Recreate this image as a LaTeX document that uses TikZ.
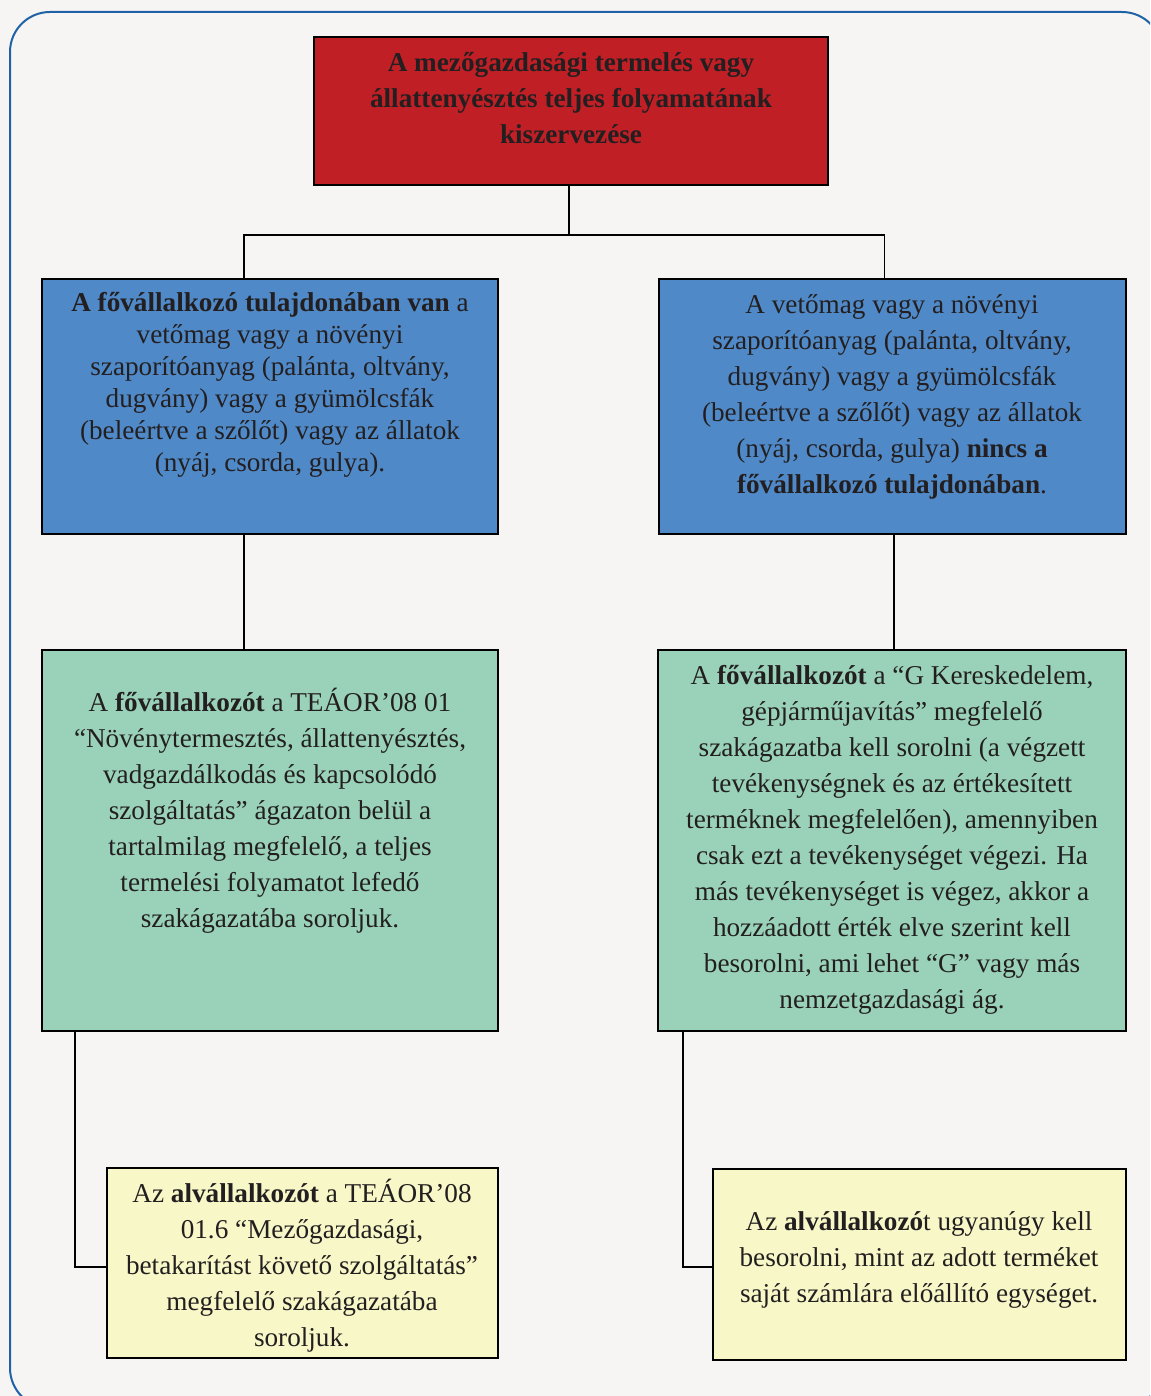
\documentclass[tikz,border=0pt]{standalone}
\usepackage{fontspec}
\setmainfont{Liberation Serif}
\usepackage{xcolor}
\definecolor{paper}{HTML}{F6F5F3}
\definecolor{frameblue}{HTML}{1F63A6}
\definecolor{boxred}{HTML}{C01F26}
\definecolor{boxblue}{HTML}{4F89C7}
\definecolor{boxgreen}{HTML}{99D2B9}
\definecolor{boxyellow}{HTML}{F7F7C7}
\definecolor{ink}{HTML}{231F20}
\tikzset{%
    box/.style={draw=black, line width=0.8pt, inner sep=0pt, outer sep=0pt},
    boxtext/.style={align=center, text=ink, inner sep=0pt, font=\fontsize{13.6}{18}\selectfont},
    tighttext/.style={boxtext, font=\fontsize{13.6}{16}\selectfont},
    link/.style={black, line width=0.75pt}
}

\begin{document}
\begin{tikzpicture}[x=0.5pt, y=-0.5pt]
    \useasboundingbox (0,0) rectangle (1150,1396);
    \fill[paper] (0,0) rectangle (1150,1396);
    \begin{scope}
        \clip (0,0) rectangle (1150,1396);
        \draw[frameblue, line width=1pt, rounded corners=20pt] (10,12) rectangle (1162,1408);
    \end{scope}
    \node[box, fill=boxred, minimum width=257pt, minimum height=74pt] (main) at (571,111) {};
    \node[box, fill=boxblue, minimum width=228pt, minimum height=127.5pt] (ownyes) at (270,406.5) {};
    \node[box, fill=boxblue, minimum width=233.5pt, minimum height=127.5pt] (ownno) at (892.5,406.5) {};
    \node[box, fill=boxgreen, minimum width=228pt, minimum height=190.5pt] (teaor) at (270,840.5) {};
    \node[box, fill=boxgreen, minimum width=234pt, minimum height=190.5pt] (keresk) at (892,840.5) {};
    \node[box, fill=boxyellow, minimum width=195.5pt, minimum height=95pt] (alvleft) at (302.5,1263) {};
    \node[box, fill=boxyellow, minimum width=206.5pt, minimum height=95.5pt] (alvright) at (919.5,1264.5) {};
    \node[boxtext, font=\fontsize{13.6}{18}\selectfont\bfseries] (maintext) at (571,98) {A mezőgazdasági termelés vagy\\állattenyésztés teljes folyamatának\\kiszervezése};
    \node[tighttext] (ownyestext) at (270,384.5) {\textbf{A fővállalkozó tulajdonában van} a\\vetőmag vagy a növényi\\szaporítóanyag (palánta, oltvány,\\dugvány) vagy a gyümölcsfák\\(beleértve a szőlőt) vagy az állatok\\(nyáj, csorda, gulya).};
    \node[boxtext] (ownnotext) at (892,397) {A vetőmag vagy a növényi\\szaporítóanyag (palánta, oltvány,\\dugvány) vagy a gyümölcsfák\\(beleértve a szőlőt) vagy az állatok\\(nyáj, csorda, gulya) \textbf{nincs a}\\\textbf{fővállalkozó tulajdonában}.};
    \node[boxtext] (teaortext) at (270,811) {A \textbf{fővállalkozót} a TEÁOR’08 01\\“Növénytermesztés, állattenyésztés,\\vadgazdálkodás és kapcsolódó\\szolgáltatás” ágazaton belül a\\tartalmilag megfelelő, a teljes\\termelési folyamatot lefedő\\szakágazatába soroljuk.};
    \node[boxtext] (kereskttext) at (892,840) {A \textbf{fővállalkozót} a “G Kereskedelem,\\gépjárműjavítás” megfelelő\\szakágazatba kell sorolni (a végzett\\tevékenységnek és az értékesített\\terméknek megfelelően), amennyiben\\csak ezt a tevékenységet végezi. Ha\\más tevékenységet is végez, akkor a\\hozzáadott érték elve szerint kell\\besorolni, ami lehet “G” vagy más\\nemzetgazdasági ág.};
    \node[boxtext] (alvlefttext) at (302,1266) {Az \textbf{alvállalkozót} a TEÁOR’08\\01.6 “Mezőgazdasági,\\betakarítást követő szolgáltatás”\\megfelelő szakágazatába\\soroljuk.};
    \node[boxtext] (alvrighttext) at (919,1260) {Az \textbf{alvállalkozó}t ugyanúgy kell\\besorolni, mint az adott terméket\\saját számlára előállító egységet.};
    \coordinate (split) at (569,235);
    \draw[link] ([xshift=-1pt]main.south) -- (split);
    \draw[link] ([xshift=-13pt]ownyes.north) |- (split) -| ([xshift=-4pt]ownno.north);
    \draw[link] ([xshift=-13pt]ownyes.south) -- ([xshift=-13pt]teaor.north);
    \draw[link] ([xshift=0.75pt]ownno.south) -- ([xshift=1pt]keresk.north);
    \draw[link] ([xshift=16.5pt]teaor.south west) |- ([yshift=-2pt]alvleft.west);
    \draw[link] ([xshift=12.5pt]keresk.south west) |- ([yshift=-1.25pt]alvright.west);
\end{tikzpicture}
\end{document}
